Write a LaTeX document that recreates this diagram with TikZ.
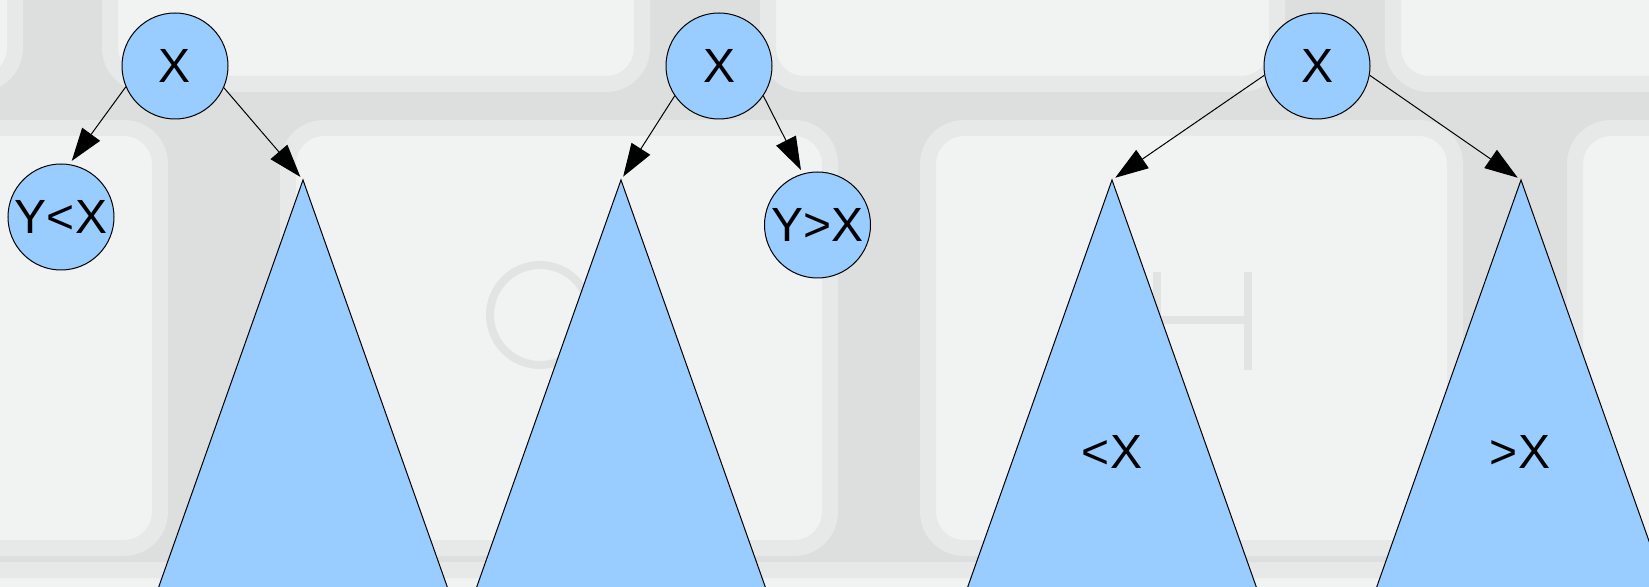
\documentclass[tikz,border=0pt]{standalone}
\usepackage{fontspec}
\setmainfont{Liberation Sans}
\usetikzlibrary{arrows.meta}
\definecolor{nodeblue}{HTML}{99CCFF}
\definecolor{keytop}{HTML}{F0F3F2}
\definecolor{keygap}{HTML}{DDDFDE}
\definecolor{keyedge}{HTML}{E7E9E8}
\definecolor{keyprint}{HTML}{E2E4E3}

\begin{document}
\begin{tikzpicture}[x=0.5pt,y=-0.5pt]
	\tikzstyle{vertex} = [circle,fill=nodeblue,draw=black,line width=0.5pt,minimum size=53pt,inner sep=0pt,font=\fontsize{24}{24}\selectfont]
	\tikzstyle{label} = [inner sep=0pt,font=\fontsize{24}{24}\selectfont]
	\tikzstyle{edge} = [-{Triangle[length=16.5pt,width=11pt]},line width=0.5pt,shorten >=2pt]
	\tikzstyle{subtree} = [fill=nodeblue,draw=black,line width=0.5pt]
	\tikzstyle{key} = [fill=keytop,draw=keyedge,line width=8pt,rounded corners=18pt]
	\useasboundingbox (0,0) rectangle (1649,587);
	\clip (0,0) rectangle (1649,587);
	\fill[keygap] (0,0) rectangle (1649,587);
	\filldraw[key] (-100,-60) rectangle (15,84);
	\filldraw[key] (110,-60) rectangle (642,84);
	\filldraw[key] (768,-60) rectangle (1277,84);
	\filldraw[key] (1393,-60) rectangle (1760,84);
	\filldraw[key] (-100,128) rectangle (160,548);
	\filldraw[key] (288,128) rectangle (830,548);
	\filldraw[key] (928,128) rectangle (1455,548);
	\filldraw[key] (1575,128) rectangle (1760,548);
	\filldraw[key] (-100,570) rectangle (1760,700);
	\draw[keyprint,line width=4pt] (540,315) circle [radius=50];
	\draw[keyprint,line width=4pt] (1157,272) -- (1157,370) (1248,272) -- (1248,370) (1157,320) -- (1248,320);
	\coordinate (t1) at (303,180);
	\coordinate (t2) at (621,180);
	\coordinate (t3) at (1112,180);
	\coordinate (t4) at (1521,180);
	\draw[subtree] (t1) -- ++(-156,440) -- ++(312,0) -- cycle;
	\draw[subtree] (t2) -- ++(-156,440) -- ++(312,0) -- cycle;
	\draw[subtree] (t3) -- ++(-156,440) -- ++(312,0) -- cycle;
	\draw[subtree] (t4) -- ++(-156,440) -- ++(312,0) -- cycle;
	\node[vertex] (r1) at (175,66) {X};
	\node[vertex] (c1) at (61,217) {Y<X};
	\node[vertex] (r2) at (719,66) {X};
	\node[vertex] (c2) at (817.5,225) {Y>X};
	\node[vertex] (r3) at (1317,66) {X};
	\node[label] (lt) at (1112,452) {<X};
	\node[label] (gt) at (1520,452) {>X};
	\draw[edge] (r1.203) -- (c1.81);
	\draw[edge] (r1.336) -- (t1);
	\draw[edge] (r2.214) -- (t2);
	\draw[edge] (r2.326) -- (c2.106);
	\draw[edge] (r3.190) -- (t3);
	\draw[edge] (r3.350) -- (t4);
\end{tikzpicture}
\end{document}
